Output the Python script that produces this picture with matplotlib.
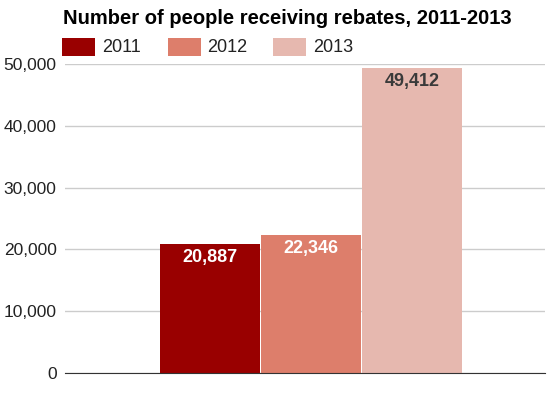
import matplotlib.pyplot as plt
from matplotlib.patches import Rectangle
from matplotlib.ticker import FuncFormatter

# datos
anios = ["2011", "2012", "2013"]
personas = [20887, 22346, 49412]
colores = ["#990000", "#dd7e6b", "#e6b8af"]
colores_texto = ["#ffffff", "#ffffff", "#3a3a3a"]
ticks_y = [0, 10000, 20000, 30000, 40000, 50000]

plt.rcParams['font.family'] = ['Liberation Sans', 'DejaVu Sans']

W, H = 552, 398
fig = plt.figure(figsize=(W / 100, H / 100), dpi=100)
ax = fig.add_axes([65 / W, 25 / H, 480 / W, 309 / H])

ancho = 100 / 480
centro = (311 - 65) / 480
posiciones = [centro - ancho * 1.01, centro, centro + ancho * 1.01]

for x, v, c, ct in zip(posiciones, personas, colores, colores_texto):
    ax.bar(x, v, width=ancho, color=c, edgecolor='none', zorder=2)
    ax.text(x, v - 900, f"{v:,}", ha='center', va='top', color=ct,
            fontsize=13, fontweight='bold', zorder=3)

ax.set_xlim(0, 1)
ax.set_ylim(0, 50000)
ax.set_yticks(ticks_y)
ax.yaxis.set_major_formatter(FuncFormatter(lambda v, p: f"{int(v):,}"))
ax.tick_params(axis='y', length=0, pad=6, labelsize=12.5, labelcolor='#222222')
ax.set_xticks([])
ax.grid(axis='y', color='#cccccc', linewidth=1, zorder=0)
for s in ['top', 'right', 'left']:
    ax.spines[s].set_visible(False)
ax.spines['bottom'].set_color('#333333')
ax.spines['bottom'].set_zorder(4)

fig.text(287 / W, 1 - 19 / H, "Number of people receiving rebates, 2011-2013",
         ha='center', va='center', fontsize=14.5, fontweight='bold', color='#000000')

# leyenda a mano
for i, (a, c) in enumerate(zip(anios, colores)):
    x0 = 62 + i * 105.5
    fig.patches.append(Rectangle((x0 / W, 1 - 56 / H), 33 / W, 18 / H,
                                 facecolor=c, edgecolor='none',
                                 transform=fig.transFigure, figure=fig))
    fig.text((x0 + 40) / W, 1 - 47 / H, a, ha='left', va='center',
             fontsize=13, color='#222222')

fig.savefig("out.png", dpi=100)
